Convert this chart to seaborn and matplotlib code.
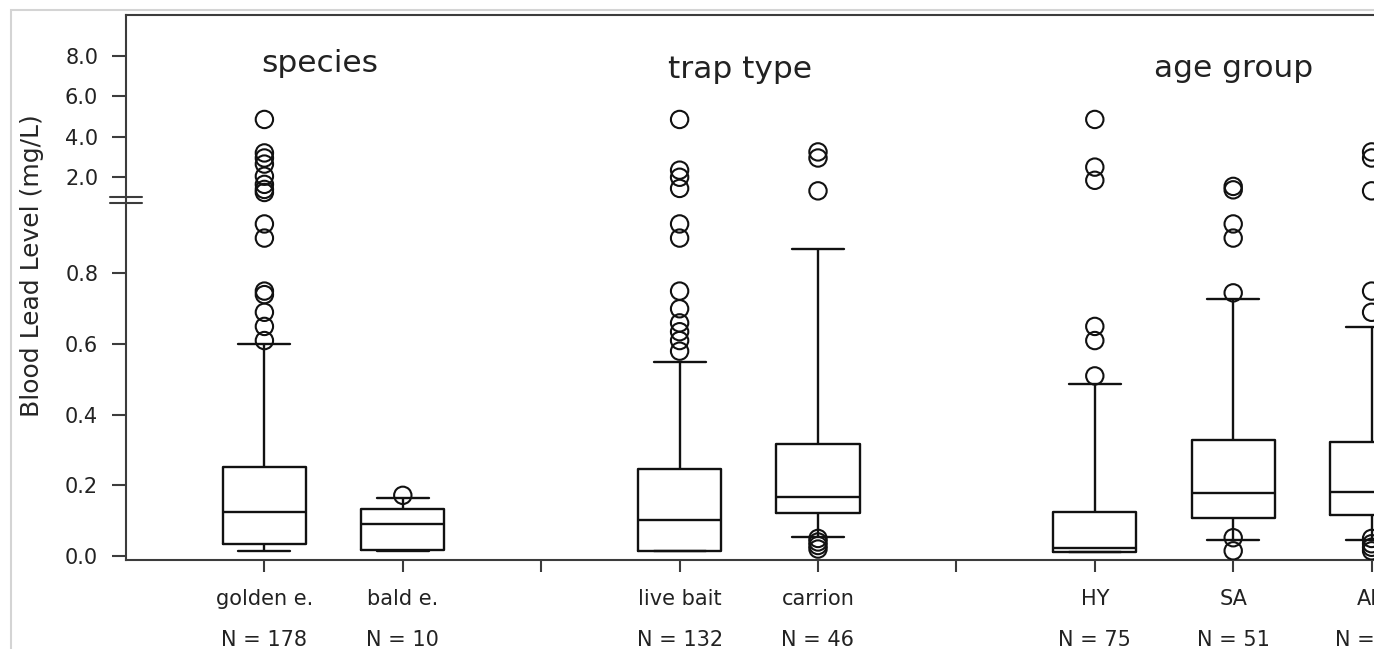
import numpy as np
import pandas as pd
import matplotlib.pyplot as plt
import matplotlib.transforms as mtransforms
from matplotlib.patches import Rectangle
import seaborn as sns


# groups left to right, with two empty slots between the three panels
groups = ['golden e.', 'bald e.', 'live bait', 'carrion', 'HY', 'SA', 'AD']
n_sizes = [178, 10, 132, 46, 75, 51, 52]
slot_order = ['golden e.', 'bald e.', 'gap1', 'live bait', 'carrion', 'gap2', 'HY', 'SA', 'AD']
panel_titles = ['species', 'trap type', 'age group']

# box summaries (mg/L)
whisker_low = [0.015, 0.015, 0.015, 0.054, 0.013, 0.047, 0.047]
quart_1 = [0.034, 0.017, 0.015, 0.123, 0.013, 0.108, 0.116]
medians = [0.125, 0.090, 0.102, 0.167, 0.024, 0.178, 0.182]
quart_3 = [0.253, 0.132, 0.246, 0.318, 0.125, 0.328, 0.322]
whisker_high = [0.600, 0.165, 0.550, 0.868, 0.486, 0.728, 0.647]

# outliers beyond the 10th/90th percentile whiskers
out_golden = [4.85, 3.2, 2.95, 2.65, 2.05, 1.65, 1.4, 1.25,
              0.94, 0.90, 0.75, 0.74, 0.69, 0.65, 0.61]
out_bald = [0.172]
out_live = [4.85, 2.35, 2.0, 1.45, 0.94, 0.90, 0.75, 0.70, 0.66, 0.635, 0.61, 0.58]
out_carrion = [3.25, 2.95, 1.33, 0.05, 0.04, 0.03, 0.02]
out_hy = [4.85, 2.5, 1.85, 0.65, 0.61, 0.51]
out_sa = [1.55, 1.38, 0.94, 0.90, 0.745, 0.052, 0.015]
out_ad = [3.25, 2.95, 1.33, 0.75, 0.69, 0.05, 0.035, 0.025, 0.015]
outliers = [out_golden, out_bald, out_live, out_carrion, out_hy, out_sa, out_ad]

ytick_vals = [0.0, 0.2, 0.4, 0.6, 0.8, 2.0, 4.0, 6.0, 8.0]

# broken y axis: linear up to 1.0, compressed above it
BREAK = 1.0
GAP = 0.0147
K = 0.0574


def fwd(v):
    v = np.asarray(v, dtype=float)
    return np.where(v <= BREAK, v, BREAK + GAP + (v - BREAK) * K)


def inv(t):
    t = np.asarray(t, dtype=float)
    upper = BREAK + (t - BREAK - GAP) / K
    return np.where(t <= BREAK, t, np.where(t < BREAK + GAP, BREAK, upper))


body_rows = []
for g, a, b, c, d, e in zip(groups, whisker_low, quart_1, medians, quart_3, whisker_high):
    for v in (a, b, c, d, e):
        body_rows.append((g, v))
body_df = pd.DataFrame(body_rows, columns=['group', 'lead'])

flier_rows = []
for g, vals in zip(groups, outliers):
    for v in vals:
        flier_rows.append((g, v))
flier_df = pd.DataFrame(flier_rows, columns=['group', 'lead'])

sns.set_style('ticks')
plt.rcParams['font.family'] = ['DejaVu Sans']
plt.rcParams['axes.edgecolor'] = '#3c3c3c'
plt.rcParams['axes.linewidth'] = 1.5
plt.rcParams['text.color'] = '#222222'
plt.rcParams['xtick.color'] = '#3c3c3c'
plt.rcParams['ytick.color'] = '#3c3c3c'
plt.rcParams['xtick.labelcolor'] = '#222222'
plt.rcParams['ytick.labelcolor'] = '#222222'

fig = plt.figure(figsize=(13.74, 6.49), dpi=100)
ax = fig.add_axes([126 / 1374, 89 / 649, 1314.8 / 1374, 545 / 649])
ax.set_yscale('function', functions=(fwd, inv))

sns.boxplot(data=body_df, x='group', y='lead', order=slot_order, whis=(0, 100),
            width=0.6, fill=False, color='#111111', linewidth=1.7,
            capwidths=0.375, ax=ax)
sns.stripplot(data=flier_df, x='group', y='lead', order=slot_order, jitter=False,
              size=12.5, facecolor='none', edgecolor='#111111', linewidth=1.5, ax=ax)

ax.set_xlim(-1.0, 8.5)
ax.set_ylim(-0.011, 10.0)
ax.set_xticks(range(len(slot_order)))
ax.set_xticklabels([g if g in groups else '' for g in slot_order])
ax.set_yticks(ytick_vals)
ax.set_yticklabels([f'{v:.1f}' for v in ytick_vals])
ax.tick_params(axis='y', length=10, width=1.5, pad=10, labelsize=15)
ax.tick_params(axis='x', length=8.6, width=1.5, pad=12, labelsize=15)
ax.set_xlabel('')
ax.set_ylabel('Blood Lead Level (mg/L)', fontsize=18)
ax.yaxis.set_label_coords(-0.062, 0.54)
ax.spines['right'].set_visible(False)

blend = mtransforms.blended_transform_factory(ax.transData, ax.transAxes)
for g, n in zip(groups, n_sizes):
    ax.text(slot_order.index(g), -0.158, f'N = {n}', transform=blend,
            ha='center', va='baseline', fontsize=15)

title_x = [0.40, 3.44, 7.0]
title_y = [0.895, 0.884, 0.886]
for x, y, t in zip(title_x, title_y, panel_titles):
    ax.text(x, y, t, transform=blend, ha='center', va='baseline', fontsize=22.5)

# break marks on the y axis
t0, t1 = fwd(-0.011), fwd(10.0)
frac = (BREAK + GAP / 2 - t0) / (t1 - t0)
half = 3.0 / 545
for dy in (-half, half):
    ax.plot([-0.0122, 0.0122], [frac + dy, frac + dy], transform=ax.transAxes,
            color='#3c3c3c', lw=1.5, clip_on=False)

# light frame around the picture
fig.add_artist(Rectangle((11 / 1374, -0.1), 2, 1 - 10 / 649 + 0.1,
                         transform=fig.transFigure, fill=False,
                         edgecolor='#d4d4d4', lw=1.5))

fig.savefig('out.png', dpi=100)
